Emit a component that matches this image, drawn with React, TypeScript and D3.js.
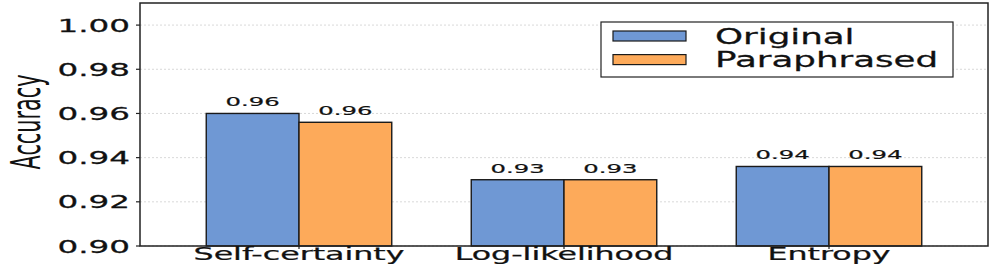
import * as d3 from "d3";
import { useEffect, useRef } from "react";

const categories = ["Self-certainty", "Log-likelihood", "Entropy"];
const originalValues = [0.96, 0.93, 0.936];
const paraphrasedValues = [0.956, 0.93, 0.936];
const yTicks = [0.9, 0.92, 0.94, 0.96, 0.98, 1.0];
const seriesNames = ["Original", "Paraphrased"];

const WIDTH = 996;
const HEIGHT = 268;
const BLUE = "#6f98d4";
const ORANGE = "#fdaa5a";
const FONT = "DejaVu Sans";

export default function App() {
  const svgRef = useRef<SVGSVGElement>(null);

  useEffect(() => {
    if (!svgRef.current) return;
    const svg = d3.select(svgRef.current);
    svg.selectAll("*").remove();

    const plot = { left: 140, right: 988, top: 3, bottom: 246 };

    const x = d3.scaleLinear().domain([-0.6, 2.6]).range([plot.left, plot.right]);
    const y = d3.scaleLinear().domain([0.9, 1.01]).range([plot.bottom, plot.top]);
    const barW = 0.35;

    // grid lines (dashed)
    svg
      .append("g")
      .selectAll("line")
      .data(yTicks)
      .enter()
      .append("line")
      .attr("x1", plot.left)
      .attr("x2", plot.right)
      .attr("y1", (d) => y(d))
      .attr("y2", (d) => y(d))
      .attr("stroke", "#cfcfcf")
      .attr("stroke-width", 0.8)
      .attr("stroke-dasharray", "2,2");

    const series = [
      { name: seriesNames[0], values: originalValues, color: BLUE, off: -barW / 2 },
      { name: seriesNames[1], values: paraphrasedValues, color: ORANGE, off: barW / 2 },
    ];

    series.forEach((s) => {
      const g = svg.append("g");
      g.selectAll("rect")
        .data(s.values)
        .enter()
        .append("rect")
        .attr("x", (_, i) => x(i + s.off - barW / 2))
        .attr("width", x(barW) - x(0))
        .attr("y", (d) => y(d))
        .attr("height", (d) => plot.bottom - y(d))
        .attr("fill", s.color)
        .attr("stroke", "#1a1a1a")
        .attr("stroke-width", 1.4);

      // value labels
      g.selectAll("text")
        .data(s.values)
        .enter()
        .append("text")
        .attr("transform", (d, i) => `translate(${x(i + s.off)},${y(d) - 7}) scale(1.9,1)`)
        .attr("text-anchor", "middle")
        .attr("font-family", FONT)
        .attr("font-size", 12.8)
        .attr("fill", "#111")
        .attr("stroke", "#111")
        .attr("stroke-width", 0.2)
        .text((d) => d.toFixed(2));
    });

    // frame
    svg
      .append("rect")
      .attr("x", plot.left)
      .attr("y", plot.top)
      .attr("width", plot.right - plot.left)
      .attr("height", plot.bottom - plot.top)
      .attr("fill", "none")
      .attr("stroke", "#222")
      .attr("stroke-width", 1.5);

    // y axis ticks + labels
    const yAxis = svg.append("g");
    yAxis
      .selectAll("line")
      .data(yTicks)
      .enter()
      .append("line")
      .attr("x1", plot.left - 4)
      .attr("x2", plot.left)
      .attr("y1", (d) => y(d))
      .attr("y2", (d) => y(d))
      .attr("stroke", "#222")
      .attr("stroke-width", 1.2);
    yAxis
      .selectAll("text")
      .data(yTicks)
      .enter()
      .append("text")
      .attr("transform", (d) => `translate(${plot.left - 10},${y(d) + 6.5}) scale(1.94,1)`)
      .attr("text-anchor", "end")
      .attr("font-family", FONT)
      .attr("font-size", 16.8)
      .attr("fill", "#111")
      .attr("stroke", "#111")
      .attr("stroke-width", 0.25)
      .text((d) => d.toFixed(2));

    // x axis ticks + labels
    const xAxis = svg.append("g");
    xAxis
      .selectAll("line")
      .data(categories)
      .enter()
      .append("line")
      .attr("x1", (_, i) => x(i))
      .attr("x2", (_, i) => x(i))
      .attr("y1", plot.bottom)
      .attr("y2", plot.bottom + 3)
      .attr("stroke", "#222")
      .attr("stroke-width", 1.2);
    xAxis
      .selectAll("text")
      .data(categories)
      .enter()
      .append("text")
      .attr("transform", (_, i) => `translate(${x(i)},260) scale(1.8,1)`)
      .attr("text-anchor", "middle")
      .attr("font-family", FONT)
      .attr("font-size", 17.6)
      .attr("fill", "#111")
      .attr("stroke", "#111")
      .attr("stroke-width", 0.25)
      .text((d) => d);

    // y axis title
    svg
      .append("text")
      .attr("transform", `translate(40,122) scale(1.95,1) rotate(-90)`)
      .attr("text-anchor", "middle")
      .attr("font-family", FONT)
      .attr("font-size", 20.8)
      .attr("fill", "#111")
      .text("Accuracy");

    // legend
    const legend = svg.append("g").attr("transform", "translate(601,22)");
    legend
      .append("rect")
      .attr("width", 352)
      .attr("height", 55)
      .attr("fill", "white")
      .attr("stroke", "#222")
      .attr("stroke-width", 1.2);
    series.forEach((s, i) => {
      const row = legend.append("g").attr("transform", `translate(0,${9 + i * 23.6})`);
      row
        .append("rect")
        .attr("x", 12)
        .attr("width", 73)
        .attr("height", 10)
        .attr("fill", s.color)
        .attr("stroke", "#1a1a1a")
        .attr("stroke-width", 1.2);
      row
        .append("text")
        .attr("transform", "translate(114,12.5) scale(1.74,1)")
        .attr("font-family", FONT)
        .attr("font-size", 20.5)
        .attr("fill", "#111")
        .attr("stroke", "#111")
        .attr("stroke-width", 0.25)
        .text(s.name);
    });
  }, []);

  return (
    <svg
      ref={svgRef}
      width={WIDTH}
      height={HEIGHT}
      style={{ position: "absolute", left: 0, top: 0, background: "white" }}
    />
  );
}
